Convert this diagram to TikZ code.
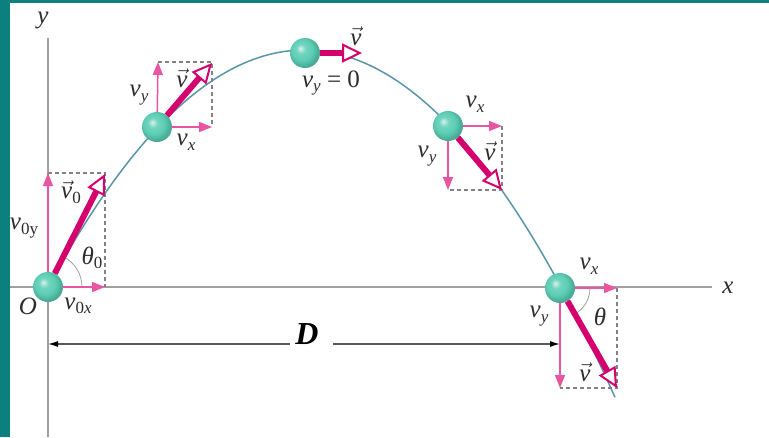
\documentclass[tikz,border=0pt]{standalone}
\usepackage{fontspec}
\setmainfont{Liberation Serif}
\usetikzlibrary{arrows.meta}
\definecolor{tealB}{RGB}{12,128,126}
\definecolor{pinkA}{RGB}{232,85,160}
\definecolor{magA}{RGB}{212,0,110}
\definecolor{curveC}{RGB}{90,150,170}
\definecolor{axisC}{RGB}{160,160,160}
\definecolor{boxC}{RGB}{130,130,130}
\definecolor{ballC}{RGB}{90,205,180}
\definecolor{labC}{RGB}{45,45,45}
\pgfdeclareradialshading{tball}{\pgfqpoint{-8bp}{8bp}}{%
  color(0bp)=(white!75!ballC);
  color(8bp)=(ballC!85!white);
  color(18bp)=(ballC);
  color(25bp)=(ballC!85!black);
  color(50bp)=(ballC!60!black)}
\newcommand\sbx[1]{\raisebox{-0.4ex}{\fontsize{17}{17}\selectfont #1}}
\newcommand\vvec{$\vec{\hbox{\textit{v}}}$}
\tikzset{
  ball/.style={circle, minimum size=30pt, inner sep=0pt, shading=tball},
  comp/.style={draw=pinkA, line width=1.5pt, -{Triangle[length=13pt,width=10pt]}},
  vel/.style={draw=magA, line width=6pt, -{Triangle[length=20pt,width=19pt,fill=white,line width=2pt]}},
  dbox/.style={draw=boxC, line width=1.1pt, dash pattern=on 4pt off 3pt},
  lab/.style={text=labC, font=\fontsize{25}{27}\selectfont\itshape, inner sep=0pt},
  ang/.style={draw=axisC, line width=0.8pt},
  axis/.style={draw=axisC, line width=1.3pt},
  dim/.style={draw=gray!70!black, line width=1.2pt, -{Latex[length=10pt,width=6pt,color=black]}},
}
\begin{document}
\begin{tikzpicture}[x=1pt,y=-1pt]
\useasboundingbox (0,0) rectangle (769,437);
\fill[white] (0,0) rectangle (769,437);
\fill[tealB] (0,0) rectangle (10,437);
\fill[tealB] (0,0) rectangle (769,3);
% axes
\coordinate (yb) at (48,437);
\coordinate (yt) at (48,38);
\coordinate (xl) at (10,287);
\coordinate (xr) at (712,287);
\draw[axis] (yb) -- (yt);
\draw[axis] (xl) -- (xr);
\node[lab] (ylab) at (43,20) {y};
\node[lab] (xlab) at (728,288) {x};
\node[lab] (olab) at (28,306) {O};
% trajectory
\draw[curveC, line width=1.5pt] plot[domain=48:615, samples=120, smooth] (\x, {287-237*(1-((\x-304.5)/256.5)^2)});
% balls
\node[ball] (b0) at (48,287) {};
\node[ball] (b1) at (157,127) {};
\node[ball] (b2) at (305,53) {};
\node[ball] (b3) at (448,126) {};
\node[ball] (b4) at (560,288) {};
% ball 0
\coordinate (t0y) at (48,173);
\coordinate (t0x) at (105,287);
\coordinate (t0) at (105,174);
\draw[dbox] (t0y) -- (t0y -| t0x) -- (t0x);
\draw[ang] (b0.center) ++(34,0) arc[start angle=0, end angle=-63, radius=34];
\draw[comp] (b0) -- (t0y);
\draw[comp] (b0) -- (t0x);
\draw[vel] (b0) -- (t0);
\node[lab] at (71,192) {\vvec\sbx{\upshape 0}};
\node[lab] at (24,228) {v\sbx{\upshape 0y}};
\node[lab] at (92,258) {θ\sbx{\upshape 0}};
\node[lab] at (78,306) {v\sbx{{\upshape 0}x}};
% ball 1
\coordinate (t1y) at (158,62);
\coordinate (t1x) at (212,127);
\coordinate (t1) at (212,63);
\draw[dbox] (t1y) -- (t1y -| t1x) -- (t1x);
\draw[comp] (b1) -- (t1y);
\draw[comp] (b1) -- (t1x);
\draw[vel] (b1) -- (t1);
\node[lab] at (139,95) {v\sbx{y}};
\node[lab] at (182,78) {\vvec};
\node[lab] at (186,142) {v\sbx{x}};
% ball 2
\coordinate (t2) at (362,53);
\draw[vel] (b2) -- (t2);
\node[lab] at (356,36) {\vvec};
\node[lab] at (331,83) {v\sbx{y} \upshape= 0};
% ball 3
\coordinate (t3x) at (502,126);
\coordinate (t3y) at (448,190);
\coordinate (t3) at (502,190);
\draw[dbox] (t3x) -- (t3) -- (t3y);
\draw[comp] (b3) -- (t3x);
\draw[comp] (b3) -- (t3y);
\draw[vel] (b3) -- (t3);
\node[lab] at (475,104) {v\sbx{x}};
\node[lab] at (427,156) {v\sbx{y}};
\node[lab] at (490,151) {\vvec};
% ball 4
\coordinate (t4x) at (617,288);
\coordinate (t4y) at (560,388);
\coordinate (t4) at (617,388);
\draw[dbox] (t4x) -- (t4) -- (t4y);
\draw[ang] (b4.center) ++(30,0) arc[start angle=0, end angle=61, radius=30];
\draw[comp] (b4) -- (t4x);
\draw[comp] (b4) -- (t4y);
\draw[vel] (b4) -- (t4);
\node[lab] at (589,266) {v\sbx{x}};
\node[lab] at (539,316) {v\sbx{y}};
\node[lab] at (600,317) {θ};
\node[lab] at (585,372) {\vvec};
% distance D
\coordinate (d0) at (48,344);
\coordinate (d1) at (560,344);
\coordinate (dl) at (290,344);
\coordinate (dr) at (333,344);
\draw[dim] (dl) -- (d0);
\draw[dim] (dr) -- (d1);
\node[font=\fontsize{32}{34}\selectfont\bfseries\itshape, inner sep=0pt, anchor=base] (D) at (307,344) {D};
\end{tikzpicture}
\end{document}
